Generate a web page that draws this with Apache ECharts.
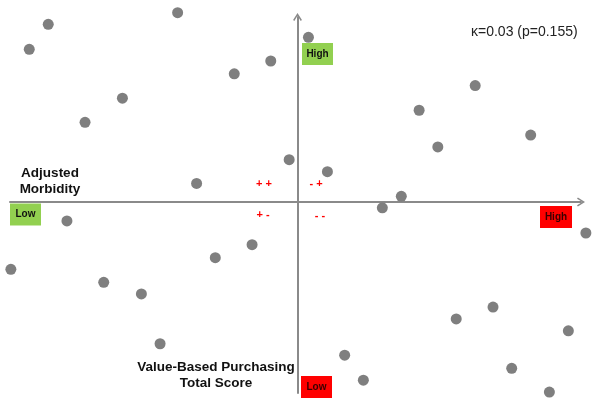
<!DOCTYPE html>
<html>
<head>
<meta charset="utf-8">
<script src="https://cdn.jsdelivr.net/npm/echarts@6/dist/echarts.min.js"></script>
<style>
  html, body { margin: 0; padding: 0; background: #fff; }
  #chart { width: 600px; height: 408px; }
</style>
</head>
<body>
<div id="chart"></div>
<script>
// x: value-based purchasing total score, y: adjusted morbidity (centred units)
const scoreX = [-8.67, -9.33, -4.17, -0.93, -2.20, -6.09, -7.39, -0.29, -3.51,
  0.38, 6.18, 4.23, 8.11, 4.88, 1.04, 3.61, 2.95,
  -8.02, -9.97, -6.74, -5.43, -4.78, -2.86, -1.58,
  10.03, 6.80, 5.52, 9.42, 1.64, 7.45, 2.29, 8.76];
const morbY = [9.45, 8.12, 10.07, 7.50, 6.82, 5.52, 4.24, 2.25, 0.99,
  8.76, 6.19, 4.88, 3.56, 2.93, 1.61, 0.30, -0.31,
  -1.01, -3.58, -4.27, -4.89, -7.54, -2.96, -2.27,
  -1.65, -5.59, -6.22, -6.85, -8.15, -8.85, -9.48, -10.11];
const statText = "κ=0.03 (p=0.155)";
const quadrantSigns = ["+ +", "- +", "+ -", "- -"];

const points = scoreX.map((x, i) => [x, morbY[i]]);

// open chevron for the axis ends
const chevron = "path://M5,0 L10,8 L8.6,9 L5,3 L1.4,9 L0,8 Z";
const axisGrey = "#8a8a8a";

const chart = echarts.init(document.getElementById("chart"));

function box(cx, cy, w, h, fill, label, txtColor) {
  return {
    type: "group",
    children: [
      { type: "rect", shape: { x: cx - w / 2, y: cy - h / 2, width: w, height: h }, style: { fill: fill } },
      {
        type: "text", x: cx, y: cy,
        style: { text: label, fill: txtColor, font: "bold 10px 'Liberation Sans', Arial", align: "center", verticalAlign: "middle" }
      }
    ]
  };
}

function sign(cx, cy, s) {
  return {
    type: "text", x: cx, y: cy,
    style: { text: s, fill: "#ff0000", font: "bold 11px 'Liberation Sans', Arial", align: "center", verticalAlign: "middle" }
  };
}

const option = {
  animation: false,
  grid: { left: 10, right: 19, top: 17, bottom: 15 },
  xAxis: {
    type: "value",
    min: -10,
    max: 9.86,
    axisLine: { onZero: true, symbol: ["none", chevron], symbolSize: [10, 8], lineStyle: { color: axisGrey, width: 2 } },
    axisTick: { show: false },
    axisLabel: { show: false },
    splitLine: { show: false }
  },
  yAxis: {
    type: "value",
    min: -10.16,
    max: 9.84,
    axisLine: { onZero: true, symbol: ["none", chevron], symbolSize: [10, 8], lineStyle: { color: axisGrey, width: 2 } },
    axisTick: { show: false },
    axisLabel: { show: false },
    splitLine: { show: false }
  },
  series: [{
    type: "scatter",
    data: points,
    symbolSize: 11,
    clip: false,
    itemStyle: { color: "#7f7f7f", opacity: 1 }
  }],
  graphic: [
    {
      type: "text", left: 471, top: 25,
      style: { text: statText, fill: "#222", font: "14px 'Liberation Sans', Arial" }
    },
    {
      type: "text", x: 50, y: 181,
      style: {
        text: "Adjusted\nMorbidity", fill: "#111", font: "bold 13.5px 'Liberation Sans', Arial",
        align: "center", verticalAlign: "middle", lineHeight: 16,
        backgroundColor: "rgba(255,255,255,0.8)"
      }
    },
    {
      type: "text", x: 216, y: 375,
      style: {
        text: "Value-Based Purchasing\nTotal Score", fill: "#111", font: "bold 13.5px 'Liberation Sans', Arial",
        align: "center", verticalAlign: "middle", lineHeight: 16,
        backgroundColor: "rgba(255,255,255,0.8)"
      }
    },
    box(317.5, 54, 31, 22, "#92d050", "High", "#111"),
    box(25.5, 214.5, 31, 22, "#92d050", "Low", "#111"),
    box(556, 217, 32, 22, "#ff0000", "High", "#3a0000"),
    box(316.5, 387, 31, 22, "#ff0000", "Low", "#3a0000"),
    sign(264, 184, quadrantSigns[0]),
    sign(316, 184, quadrantSigns[1]),
    sign(263, 215, quadrantSigns[2]),
    sign(320, 216, quadrantSigns[3])
  ]
};

chart.setOption(option);
</script>
</body>
</html>
